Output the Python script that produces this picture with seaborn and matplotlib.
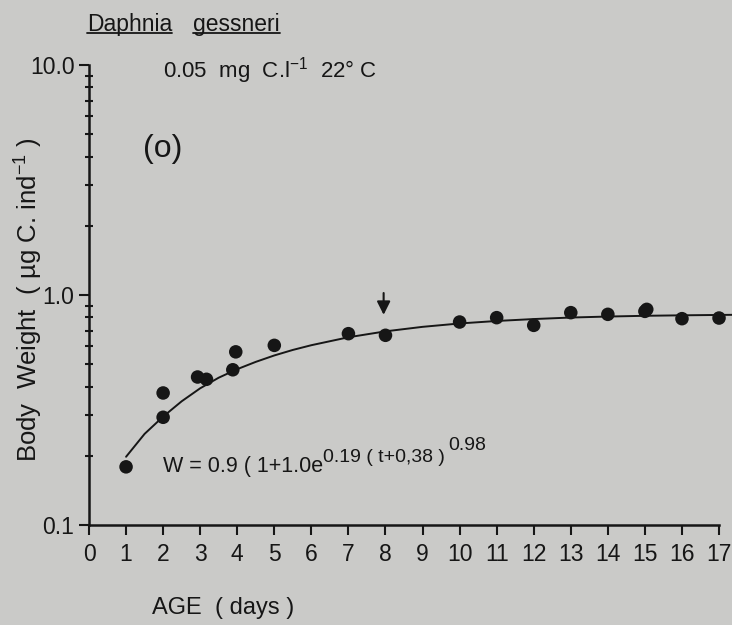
import matplotlib
matplotlib.use("Agg")
import matplotlib.pyplot as plt
import seaborn as sns
import pandas as pd
from matplotlib.lines import Line2D
from matplotlib.ticker import FixedLocator, NullFormatter

# ---- data ----
age_days = [1, 2, 2, 2.93, 3.17, 3.88, 3.96, 5, 7, 8, 10, 11, 12, 13, 14, 15, 15.05, 16, 17]
body_weight = [0.179, 0.294, 0.375, 0.44, 0.43, 0.473, 0.566, 0.604, 0.679, 0.668,
               0.763, 0.797, 0.738, 0.838, 0.824, 0.849, 0.866, 0.789, 0.794]

curve_age = [1.0, 1.5, 2.0, 2.5, 3.0, 3.5, 4.0, 4.5, 5.0, 5.5, 6.0, 7.0, 8.0,
             9.0, 10.0, 11.0, 12.0, 13.0, 14.0, 15.0, 16.0, 17.0, 17.35]
curve_weight = [0.198, 0.249, 0.296, 0.345, 0.393, 0.437, 0.476, 0.512, 0.546, 0.577,
                0.605, 0.655, 0.695, 0.727, 0.752, 0.771, 0.786, 0.798, 0.806, 0.812,
                0.816, 0.819, 0.82]

x_ticks = list(range(0, 18))
y_ticks = [0.1, 1.0, 10.0]
y_tick_labels = ["0.1", "1.0", "10.0"]
arrow_age = 7.95

BG = "#cacac8"
INK = "#161616"
W, H = 732, 625

sns.set_theme(style="white")
plt.rcParams["font.family"] = ["Liberation Sans", "DejaVu Sans"]
plt.rcParams["mathtext.default"] = "regular"

fig = plt.figure(figsize=(W / 100, H / 100), dpi=100, facecolor=BG)
ax = fig.add_axes([89 / W, 100 / H, (W - 89) / W, 460 / H])
ax.set_facecolor(BG)

pts = pd.DataFrame({"age": age_days, "w": body_weight})
crv = pd.DataFrame({"age": curve_age, "w": curve_weight})

sns.lineplot(data=crv, x="age", y="w", ax=ax, color=INK, linewidth=1.4, sort=False)
sns.scatterplot(data=pts, x="age", y="w", ax=ax, color=INK, s=95, edgecolor="none", zorder=3)

ax.set_yscale("log")
ax.set_xlim(0, 17.35)
ax.set_ylim(0.1, 10)

for s in ["top", "right"]:
    ax.spines[s].set_visible(False)
for s in ["left", "bottom"]:
    ax.spines[s].set_color(INK)
    ax.spines[s].set_linewidth(1.8)
ax.spines["bottom"].set_bounds(0, 17)

ax.xaxis.set_major_locator(FixedLocator(x_ticks))
ax.set_xticklabels([str(v) for v in x_ticks])
ax.yaxis.set_major_locator(FixedLocator(y_ticks))
ax.set_yticklabels(y_tick_labels)
minor = [m * d for d in (0.1, 1.0) for m in range(2, 10)]
ax.yaxis.set_minor_locator(FixedLocator(minor))
ax.yaxis.set_minor_formatter(NullFormatter())

ax.tick_params(axis="x", which="major", direction="out", length=7, width=1.5,
               color=INK, labelsize=16.5, labelcolor=INK, pad=6, bottom=True)
ax.tick_params(axis="y", which="major", direction="out", length=7, width=1.5,
               color=INK, labelsize=16.5, labelcolor=INK, pad=3.5, left=True)
ax.tick_params(axis="y", which="minor", direction="inout", length=6, width=1.5,
               color=INK, left=True)
ax.set_xlabel("")
ax.set_ylabel("")

# arrow marking day 8
ax.annotate("", xy=(arrow_age, 0.82), xytext=(arrow_age, 1.02),
            arrowprops=dict(arrowstyle="-|>", color=INK, lw=1.5, mutation_scale=20,
                            shrinkA=0, shrinkB=0))

# texts
t1 = fig.text(87 / W, 1 - 31 / H, "Daphnia", fontsize=16.5, color=INK, va="baseline", ha="left")
t2 = fig.text(193 / W, 1 - 31 / H, "gessneri", fontsize=16.5, color=INK, va="baseline", ha="left")
fig.text(163 / W, 1 - 77 / H, r"0.05  mg  C.l$^{-1}$  22$\degree$ C", fontsize=16,
         color=INK, va="baseline", ha="left")
fig.text(143 / W, 1 - 157 / H, "(o)", fontsize=23, color=INK, va="baseline", ha="left")
fig.text(29 / W, 1 - 300 / H, r"Body  Weight  ( µg C. ind$^{-1}$ )", fontsize=18.5,
         color=INK, rotation=90, va="center", ha="center")
fig.text(152 / W, 1 - 614 / H, "AGE  ( days )", fontsize=17, color=INK,
         va="baseline", ha="left")

# equation assembled from pieces
fig.canvas.draw()
r = fig.canvas.get_renderer()
eq_base_y = 1 - 472 / H
e1 = fig.text(163 / W, eq_base_y, "W = 0.9 ( 1+1.0e", fontsize=15.5, color=INK,
              va="baseline", ha="left")
bb = e1.get_window_extent(renderer=r)
e2 = fig.text(bb.x1 / W, eq_base_y + 10 / H, "0.19 ( t+0,38 )", fontsize=14, color=INK,
              va="baseline", ha="left")
bb2 = e2.get_window_extent(renderer=r)
fig.text(bb2.x1 / W + 3 / W, eq_base_y + 22 / H, "0.98", fontsize=14, color=INK,
         va="baseline", ha="left")

# underline the species name word by word
for t in (t1, t2):
    bbt = t.get_window_extent(renderer=r)
    y = (H - 33) / H
    fig.add_artist(Line2D([bbt.x0 / W, bbt.x1 / W], [y, y], transform=fig.transFigure,
                          color=INK, lw=1.3))

fig.savefig("out.png", dpi=100, facecolor=BG)
